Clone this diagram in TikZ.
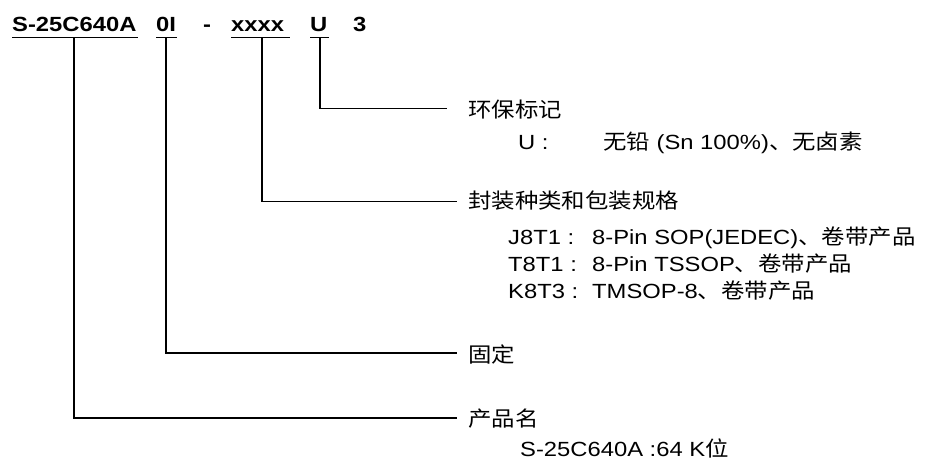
\documentclass[tikz,border=0pt]{standalone}
\usepackage{fontspec}
\setmainfont{Liberation Sans}[FakeStretch=1.16]
\newfontfamily\cjk{Noto Sans CJK SC}[FakeStretch=1.12,Scale=1.02]
\newcommand{\zh}[1]{{\cjk #1}}
\begin{document}
\begin{tikzpicture}[x=1pt,y=-1pt,
  txt/.style={inner sep=0pt,anchor=base west,font=\fontsize{20.5}{24}\selectfont},
  code/.style={txt,font=\fontsize{20.5}{24}\selectfont\bfseries},
  ln/.style={line width=1.4pt},
  ul/.style={line width=1.5pt}]
\useasboundingbox (0,0) rectangle (933,462);
% top code
\node[code] (c1) at (12,32) {S-25C640A};
\node[code] (c2) at (156,32) {0I};
\node[code] (c3) at (203,32) {-};
\node[code] (c4) at (231,32) {xxxx};
\node[code] (c5) at (310,32) {U};
\node[code] (c6) at (353,32) {3};
% underlines
\coordinate (u1a) at (12,37.5); \coordinate (u1b) at (138,37.5);
\coordinate (u2a) at (156,37.5); \coordinate (u2b) at (177,37.5);
\coordinate (u4a) at (231,37.5); \coordinate (u4b) at (290,37.5);
\coordinate (u5a) at (310,37.5); \coordinate (u5b) at (329,37.5);
\draw[ul] (u1a) -- (u1b);
\draw[ul] (u2a) -- (u2b);
\draw[ul] (u4a) -- (u4b);
\draw[ul] (u5a) -- (u5b);
\coordinate (v1) at (74,37.5);
\coordinate (v2) at (166,37.5);
\coordinate (v4) at (262,37.5);
\coordinate (v5) at (320,37.5);
% line ends
\coordinate (e5) at (447,108.5);
\coordinate (e4) at (457,201.5);
\coordinate (e2) at (457,353);
\coordinate (e1) at (457,418);
\draw[ln] (v5) |- (e5);
\draw[ln] (v4) |- (e4);
\draw[ln] (v2) |- (e2);
\draw[ln] (v1) |- (e1);
% labels
\node[txt] (t5) at (468,118) {\zh{环保标记}};
\node[txt] (k5) at (518,150) {U :};
\node[txt] (d5) at (603,150) {\zh{无铅}\ (Sn 100\%)\zh{、无卤素}};
\node[txt] (t4) at (468,209) {\zh{封装种类和包装规格}};
\node[txt] (k4a) at (508,244) {J8T1 :};
\node[txt] (d4a) at (592,244) {8-Pin SOP(JEDEC)\zh{、卷带产品}};
\node[txt] (k4b) at (508,271) {T8T1 :};
\node[txt] (d4b) at (592,271) {8-Pin TSSOP\zh{、卷带产品}};
\node[txt] (k4c) at (508,298) {K8T3 :};
\node[txt] (d4c) at (592,298) {TMSOP-8\zh{、卷带产品}};
\node[txt] (t2) at (468,362) {\zh{固定}};
\node[txt] (t1) at (468,426) {\zh{产品名}};
\node[txt] (d1) at (520,456) {S-25C640A :64 K\zh{位}};
\end{tikzpicture}
\end{document}
